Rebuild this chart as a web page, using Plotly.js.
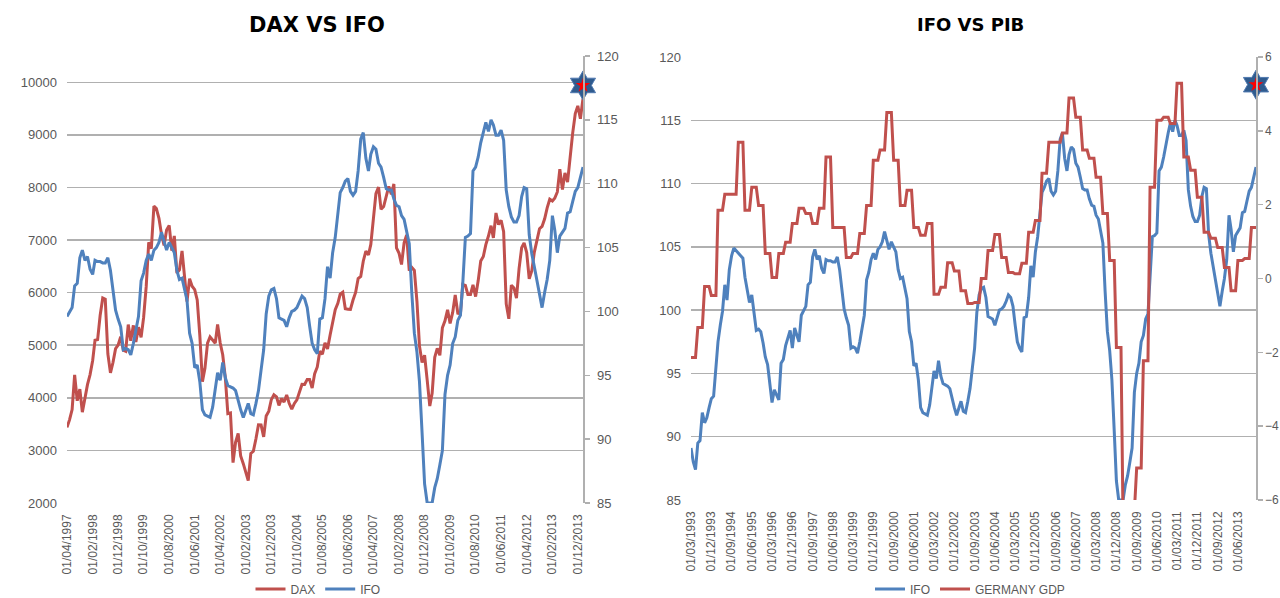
<!DOCTYPE html>
<html>
<head>
<meta charset="utf-8">
<script src="https://cdn.plot.ly/plotly-3.0.1.min.js"></script>
<style>
html,body{margin:0;padding:0;background:#ffffff;}
#chart{width:1280px;height:598px;}
</style>
</head>
<body>
<div id="chart"></div>
<script>
// ---------- DATA ----------
// DAX, monthly, first month 04/1997
const daxStart = '1997-04';
const daxValues = [
  3438, 3581, 3778, 4438, 3944, 4167, 3727, 4018, 4250,
  4442, 4710, 5096, 5107, 5566, 5898, 5874, 4834, 4474, 4671, 4935, 5002,
  5160, 4904, 4884, 5393, 5083, 5378, 5060, 5342, 5150, 5524, 6114, 6958,
  6835, 7644, 7599, 7414, 7110, 6898, 7190, 7279, 6799, 7078, 6372, 6434,
  6795, 6208, 5830, 6265, 6123, 6058, 5862, 5188, 4308, 4560, 5040, 5160,
  5108, 5039, 5397, 5041, 4818, 4383, 3700, 3712, 2769, 3153, 3321, 2893,
  2748, 2548, 2424, 2942, 2983, 3221, 3487, 3485, 3257, 3656, 3746, 3965,
  4059, 4018, 3857, 3985, 3921, 4053, 3896, 3785, 3893, 3960, 4126, 4256,
  4255, 4350, 4349, 4185, 4461, 4587, 4887, 4830, 5044, 4929, 5193, 5408,
  5674, 5797, 5970, 6009, 5692, 5683, 5682, 5860, 6004, 6269, 6309, 6597,
  6789, 6716, 6917, 7409, 7883, 8007, 7584, 7638, 7862, 8019, 7871, 8067,
  6851, 6748, 6535, 6949, 7097, 6418, 6479, 6422, 5831, 4988, 4669, 4810,
  4338, 3844, 4085, 4770, 4941, 4809, 5332, 5465, 5675, 5415, 5625, 5957,
  5608, 5598, 6154, 6136, 5964, 5966, 6148, 5925, 6229, 6601, 6688, 6914,
  7077, 7273, 7041, 7514, 7294, 7376, 7159, 5785, 5502, 6141, 6089, 5898,
  6458, 6856, 6947, 6761, 6264, 6416, 6772, 6971, 7216, 7260, 7405, 7612,
  7776, 7742, 7795, 7914, 8349, 7959, 8276, 8103, 8594, 9033, 9405, 9552,
  9306, 9692
];

// IFO business climate, monthly, first month 03/1993
const ifoStart = '1993-03';
const ifoValues = [
  89.1, 88.0, 87.4, 89.5, 89.7, 91.9, 91.1, 91.5, 92.3, 93.0,
  93.2, 95.3, 97.5, 98.8, 99.9, 102.0, 100.8, 103.2, 104.3, 104.9,
  104.7, 104.5, 104.3, 104.1, 102.6, 101.6, 100.6, 101.2, 100.0, 98.4,
  98.5, 98.3, 97.4, 96.3, 95.7, 94.3, 92.7, 93.7, 93.3, 92.9,
  95.8, 96.1, 97.2, 97.9, 98.4, 97.0, 98.6, 98.0, 97.5, 99.6,
  99.9, 100.3, 102.0, 102.2, 104.2, 104.8, 104.0, 104.3, 103.3, 102.9,
  104.0, 103.9, 103.9, 103.8, 103.8, 104.2, 103.2, 101.6, 100.1, 99.4,
  98.8, 97.0, 97.1, 97.0, 96.6, 97.5, 98.6, 99.6, 102.4, 103.0,
  104.0, 104.5, 104.0, 104.8, 105.0, 105.4, 106.2, 105.5, 104.8, 105.4,
  105.0, 104.6, 103.2, 102.5, 102.6, 101.8, 100.9, 98.3, 97.5, 95.6,
  95.8, 94.5, 92.3, 91.9, 91.8, 91.7, 92.5, 93.8, 95.2, 94.6,
  96.0, 94.8, 94.2, 94.1, 94.0, 93.8, 93.0, 92.3, 91.7, 92.3,
  92.8, 92.0, 91.9, 92.8, 93.8, 95.4, 97.0, 99.8, 101.2, 101.7,
  101.8, 101.0, 99.5, 99.4, 99.3, 98.8, 99.5, 100.0, 100.1, 100.3,
  100.7, 101.2, 101.0, 100.3, 98.9, 97.5, 97.0, 96.7, 99.4, 99.5,
  101.0, 103.5, 102.6, 104.6, 105.8, 107.5, 109.3, 109.7, 110.2, 110.4,
  109.4, 109.1, 109.4, 111.0, 113.5, 114.0, 112.0, 111.0, 112.3, 112.9,
  112.7, 111.6, 111.3, 110.5, 109.6, 109.5, 109.5, 108.8, 108.3, 108.2,
  107.5, 107.2, 106.2, 105.3, 101.5, 98.3, 96.8, 94.5, 90.5, 86.5,
  85.0, 85.0, 85.0, 86.2, 86.9, 88.0, 89.1, 93.5, 95.0, 95.8,
  97.5, 98.0, 99.3, 99.7, 102.2, 105.8, 105.9, 106.1, 111.0, 111.3,
  112.1, 113.2, 114.0, 114.8, 114.1, 115.0, 114.6, 113.8, 113.8, 114.2,
  113.4, 109.5, 108.2, 107.4, 107.0, 107.0, 107.5, 109.0, 109.7, 109.6,
  106.0, 104.5, 103.5, 102.4, 101.5, 100.3, 101.5, 102.5, 104.0, 107.5,
  106.4, 104.6, 105.9, 106.2, 106.5, 107.7, 107.8, 108.6, 109.4, 109.7,
  110.5, 111.3
];

// Germany GDP, % y/y, quarterly; first quarter plotted from 03/1993
const gdpStart = '1993-03';
const gdpValues = [
  -2.14, -1.33, -0.22, -0.46, 1.85, 2.28, 2.28, 3.69, 1.85, 2.47,
  1.98, 0.68, 0.03, 0.68, 0.98, 1.49, 1.90, 1.76, 1.49, 1.90,
  3.29, 1.38, 1.38, 0.57, 0.68, 1.22, 1.98, 3.20, 3.48, 4.50,
  3.20, 1.98, 2.39, 1.38, 1.17, 1.49, -0.43, -0.24, 0.43, 0.20,
  -0.33, -0.68, -0.65, 0.00, 0.76, 1.19, 0.57, 0.16, 0.13, 0.41,
  1.25, 1.57, 2.85, 3.69, 3.69, 3.94, 4.89, 4.37, 3.48, 3.26,
  2.74, 1.76, 0.49, -1.87, -6.6, -6.3, -5.13, -2.23, 2.47, 4.29,
  4.37, 4.20, 5.29, 3.29, 2.93, 2.20, 1.25, 1.09, 0.84, 0.30,
  -0.33, 0.49, 0.54, 1.38
];

// latest-value star markers
const daxStarDate = ['2014-02-01'];
const daxStarValue = [9940];
const gdpStarDate = ['2014-02-01'];
const gdpStarValue = [5.25];

// x-axis tick labels
const daxTickLabels = ['01/04/1997','01/02/1998','01/12/1998','01/10/1999','01/08/2000','01/06/2001',
  '01/04/2002','01/02/2003','01/12/2003','01/10/2004','01/08/2005','01/06/2006','01/04/2007',
  '01/02/2008','01/12/2008','01/10/2009','01/08/2010','01/06/2011','01/04/2012','01/02/2013','01/12/2013'];
const gdpTickLabels = ['01/03/1993','01/12/1993','01/09/1994','01/06/1995','01/03/1996','01/12/1996',
  '01/09/1997','01/06/1998','01/03/1999','01/12/1999','01/09/2000','01/06/2001','01/03/2002',
  '01/12/2002','01/09/2003','01/06/2004','01/03/2005','01/12/2005','01/09/2006','01/06/2007',
  '01/03/2008','01/12/2008','01/09/2009','01/06/2010','01/03/2011','01/12/2011','01/09/2012','01/06/2013'];

// ---------- HELPERS ----------
function monthDate(start, i) {
  const [y, m] = start.split('-').map(Number);
  const t = y * 12 + (m - 1) + i;
  const yy = Math.floor(t / 12), mm = t % 12 + 1;
  return yy + '-' + String(mm).padStart(2, '0') + '-01';
}
function labelToDate(s) { const p = s.split('/'); return p[2] + '-' + p[1] + '-' + p[0]; }
function monthsBetween(a, b) {
  const [y1, m1] = a.split('-').map(Number), [y2, m2] = b.split('-').map(Number);
  return (y2 * 12 + m2) - (y1 * 12 + m1);
}

const daxX = daxValues.map((_, i) => monthDate(daxStart, i));
const ifoX = ifoValues.map((_, i) => monthDate(ifoStart, i));
const ifoOffset = monthsBetween(ifoStart, daxStart);
const ifoLeftX = ifoX.slice(ifoOffset);
const ifoLeftY = ifoValues.slice(ifoOffset);
const gdpX = [], gdpY = [];
gdpValues.forEach((v, k) => {
  gdpX.push(monthDate(gdpStart, 3 * k)); gdpY.push(v);
  gdpX.push(monthDate(gdpStart, 3 * k + 2)); gdpY.push(v);
});

const RED = '#C0504D', BLUE = '#4F81BD', GRID = '#B0B0B0', TXT = '#595959';
const FONT = 'Liberation Sans, Arial, sans-serif';

const starOuter = {symbol: 'hexagram', size: 22, color: '#2F5B8E', line: {color: '#5079B0', width: 1}};
const starInner = {symbol: 'star', size: 11, color: '#FF0000', line: {width: 0}};

const traces = [
  {x: daxX, y: daxValues, xaxis: 'x', yaxis: 'y', name: 'DAX', type: 'scatter', mode: 'lines',
   line: {color: RED, width: 3}, legend: 'legend'},
  {x: ifoLeftX, y: ifoLeftY, xaxis: 'x', yaxis: 'y2', name: 'IFO', type: 'scatter', mode: 'lines',
   line: {color: BLUE, width: 3}, legend: 'legend'},
  {x: daxStarDate, y: daxStarValue, xaxis: 'x', yaxis: 'y', type: 'scatter', mode: 'markers', showlegend: false,
   cliponaxis: false, marker: starOuter},
  {x: daxStarDate, y: daxStarValue, xaxis: 'x', yaxis: 'y', type: 'scatter', mode: 'markers', showlegend: false,
   cliponaxis: false, marker: starInner},

  {x: ifoX, y: ifoValues, xaxis: 'x2', yaxis: 'y3', name: 'IFO', type: 'scatter', mode: 'lines',
   line: {color: BLUE, width: 3}, legend: 'legend2'},
  {x: gdpX, y: gdpY, xaxis: 'x2', yaxis: 'y4', name: 'GERMANY GDP', type: 'scatter', mode: 'lines',
   line: {color: RED, width: 3}, legend: 'legend2'},
  {x: gdpStarDate, y: gdpStarValue, xaxis: 'x2', yaxis: 'y4', type: 'scatter', mode: 'markers', showlegend: false,
   cliponaxis: false, marker: starOuter},
  {x: gdpStarDate, y: gdpStarValue, xaxis: 'x2', yaxis: 'y4', type: 'scatter', mode: 'markers', showlegend: false,
   cliponaxis: false, marker: starInner}
];

const H = 598, W = 1280;
const xTickFont = {family: FONT, size: 12, color: TXT};
const yTickFont = {family: FONT, size: 13, color: TXT};

const layout = {
  width: W, height: H,
  margin: {l: 0, r: 0, t: 0, b: 0, autoexpand: false},
  paper_bgcolor: '#ffffff', plot_bgcolor: 'rgba(0,0,0,0)',
  font: {family: FONT, color: TXT},
  xaxis: {
    domain: [67 / W, 583 / W], type: 'date', automargin: false,
    range: [daxX[0], daxX[daxX.length - 1]],
    tickmode: 'array', tickvals: daxTickLabels.map(labelToDate), ticktext: daxTickLabels,
    tickangle: -90, tickfont: xTickFont, showgrid: false, zeroline: false, showline: false,
    ticks: '', ticklabelstandoff: 8, anchor: 'y'
  },
  yaxis: {
    domain: [(H - 503) / H, (H - 56) / H], range: [2000, 10500], automargin: false,
    tick0: 2000, dtick: 1000, tickformat: 'd', tickfont: yTickFont, showgrid: true, gridcolor: GRID, gridwidth: 1.5,
    zeroline: false, showline: false, ticks: '', ticklabelstandoff: 9, anchor: 'x'
  },
  yaxis2: {
    overlaying: 'y', side: 'right', anchor: 'x', range: [85, 120], tick0: 85, dtick: 5, automargin: false,
    tickfont: yTickFont, showgrid: false, zeroline: false, showline: true, linecolor: GRID, linewidth: 1.5,
    ticks: 'outside', ticklen: 5, tickcolor: GRID, tickwidth: 1.5, ticklabelstandoff: 5
  },
  xaxis2: {
    domain: [691 / W, 1256 / W], type: 'date', automargin: false,
    range: [ifoX[0], ifoX[ifoX.length - 1]],
    tickmode: 'array', tickvals: gdpTickLabels.map(labelToDate), ticktext: gdpTickLabels,
    tickangle: -90, tickfont: xTickFont, showgrid: false, zeroline: false, showline: false,
    ticks: '', ticklabelstandoff: 8, anchor: 'y3'
  },
  yaxis3: {
    domain: [(H - 500) / H, (H - 57) / H], range: [85, 120], automargin: false,
    tick0: 85, dtick: 5, tickfont: yTickFont, showgrid: true, gridcolor: GRID, gridwidth: 1.5,
    zeroline: false, showline: false, ticks: '', ticklabelstandoff: 9, anchor: 'x2'
  },
  yaxis4: {
    overlaying: 'y3', side: 'right', anchor: 'x2', range: [-6, 6], tick0: -6, dtick: 2, automargin: false,
    tickfont: {family: FONT, size: 12, color: TXT}, showgrid: false, zeroline: false, showline: true,
    linecolor: GRID, linewidth: 1.5,
    ticks: 'outside', ticklen: 5, tickcolor: GRID, tickwidth: 1.5, ticklabelstandoff: 0
  },
  legend: {
    orientation: 'h', x: 318 / W, xanchor: 'center', y: 9 / H, yanchor: 'middle',
    font: {family: FONT, size: 12, color: TXT}, itemwidth: 30, bgcolor: 'rgba(0,0,0,0)'
  },
  legend2: {
    orientation: 'h', x: 970 / W, xanchor: 'center', y: 9 / H, yanchor: 'middle',
    font: {family: FONT, size: 12, color: TXT}, itemwidth: 30, bgcolor: 'rgba(0,0,0,0)'
  },
  annotations: [
    {text: '<b>DAX VS IFO</b>', xref: 'paper', yref: 'paper', x: 317 / W, y: (H - 25) / H,
     xanchor: 'center', yanchor: 'middle', showarrow: false,
     font: {family: 'DejaVu Sans, sans-serif', size: 21, color: '#000000'}},
    {text: '<b>IFO VS PIB</b>', xref: 'paper', yref: 'paper', x: 970 / W, y: (H - 25) / H,
     xanchor: 'center', yanchor: 'middle', showarrow: false,
     font: {family: 'DejaVu Sans, sans-serif', size: 18, color: '#000000'}}
  ],
  showlegend: true
};

Plotly.newPlot('chart', traces, layout, {staticPlot: true, displayModeBar: false});
</script>
</body>
</html>
